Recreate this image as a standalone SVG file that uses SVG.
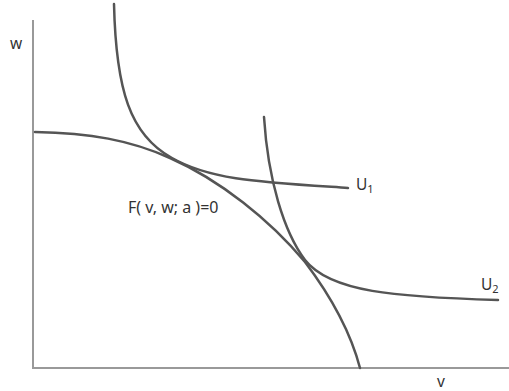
<svg xmlns="http://www.w3.org/2000/svg" width="509" height="391" viewBox="0 0 509 391">
<style>
.axis{fill:none;stroke:#999;stroke-width:2}
.curve{fill:none;stroke:#555;stroke-width:2.5;stroke-linecap:round}
text{font-family:"Noto Sans","Open Sans","DejaVu Sans",sans-serif;fill:#333;font-size:15.5px}
.sub{font-size:11px}
</style>
<rect width="509" height="391" fill="#fff"/>
<g id="axes">
<path class="axis" d="M33,20 V368 H509"/>
<text x="10" y="49">w</text>
<text x="437" y="387">v</text>
</g>
<g id="frontier">
<path class="curve" d="M35,132 C90,133 130,140 170,158 C220,180 270,220 305,262 C330,295 350,330 360,368"/>
<text x="128" y="213" style="font-size:16px">F( v, w; a )=0</text>
</g>
<g id="U1">
<path class="curve" d="M114,4 C116,90 130,135 172,158 C210,180 260,182 348,188"/>
<text x="356" y="190">U<tspan class="sub" dy="3">1</tspan></text>
</g>
<g id="U2">
<path class="curve" d="M264,117 C268,180 284,232 305,260 C330,292 395,297 498,300"/>
<text x="481" y="290">U<tspan class="sub" dy="3">2</tspan></text>
</g>
</svg>
